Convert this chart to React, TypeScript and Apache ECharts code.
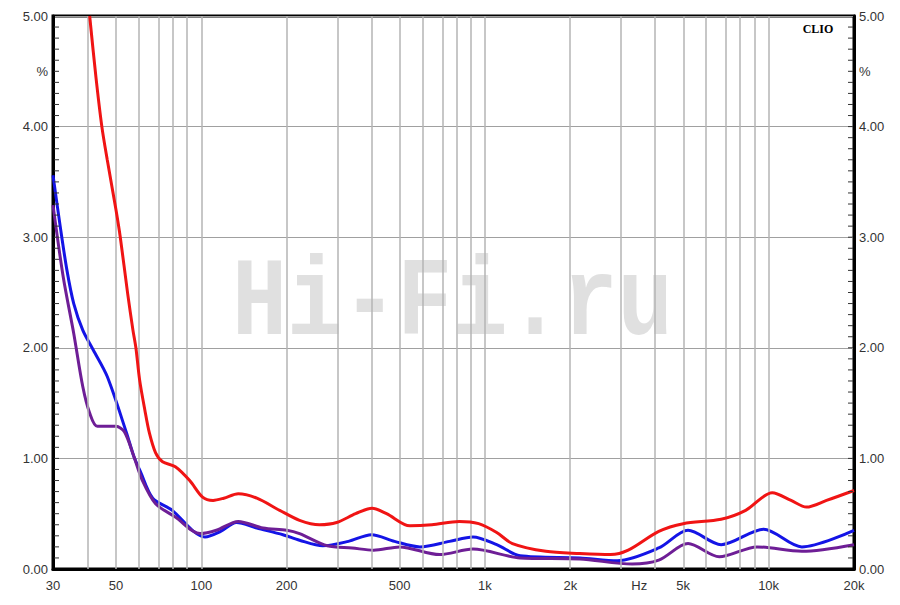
import React, { useEffect, useRef } from "react";
import * as echarts from "echarts";

const gridFreqs = [40, 50, 60, 70, 80, 90, 100, 200, 300, 400, 500, 600, 700, 800, 900, 1000, 2000, 3000, 4000, 5000, 6000, 7000, 8000, 9000, 10000];
const xLabelFreqs = [30, 50, 100, 200, 500, 1000, 2000, 3500, 5000, 10000, 20000];
const xLabelTexts = ["30", "50", "100", "200", "500", "1k", "2k", "Hz", "5k", "10k", "20k"];
const yLabelValues = [0, 1, 2, 3, 4, 4.5, 5];
const yLabelTexts = ["0.00", "1.00", "2.00", "3.00", "4.00", "%", "5.00"];
const yTickStep = 0.1;

const redFreqs = [40.4, 42.5, 44.6, 46.6, 50, 51.8, 55, 57.4, 58.8, 60.6, 63.2, 65.6, 69, 73, 81, 91, 101, 110, 120, 135, 157, 189, 222, 261, 300, 350, 400, 450, 544, 650, 812, 950, 1100, 1250, 1640, 2160, 2770, 3200, 4100, 5000, 6800, 8300, 10300, 12000, 13600, 16000, 20000];
const redValues = [5.0, 4.45, 4.0, 3.7, 3.25, 3.0, 2.49, 2.16, 2.0, 1.71, 1.44, 1.23, 1.05, 0.97, 0.925, 0.8, 0.65, 0.62, 0.64, 0.68, 0.64, 0.53, 0.44, 0.4, 0.42, 0.5, 0.55, 0.5, 0.39, 0.4, 0.43, 0.41, 0.33, 0.23, 0.16, 0.14, 0.13, 0.17, 0.34, 0.41, 0.45, 0.53, 0.69, 0.62, 0.56, 0.62, 0.71];

const blueFreqs = [30, 31.8, 33.6, 35.5, 38.2, 41.6, 46.6, 54.5, 57.8, 61, 67.4, 79, 93, 103, 117, 133, 157, 194, 222, 268, 330, 398, 480, 590, 750, 907, 1100, 1330, 2160, 2930, 4100, 5200, 6800, 9600, 13100, 20000];
const blueValues = [3.56, 3.1, 2.7, 2.4, 2.16, 1.98, 1.74, 1.23, 1.02, 0.88, 0.64, 0.53, 0.35, 0.29, 0.34, 0.42, 0.37, 0.31, 0.26, 0.21, 0.25, 0.31, 0.25, 0.2, 0.25, 0.29, 0.22, 0.12, 0.1, 0.075, 0.19, 0.35, 0.22, 0.36, 0.2, 0.35];

const purpleFreqs = [30, 32.6, 35.5, 38.2, 40.4, 43, 50, 53.6, 57.8, 62, 69, 81, 99, 113, 135, 165, 200, 222, 278, 340, 405, 500, 692, 907, 1330, 2160, 3300, 4100, 5200, 6700, 9100, 13100, 20000];
const purpleValues = [3.29, 2.64, 2.13, 1.65, 1.41, 1.29, 1.29, 1.24, 1.02, 0.8, 0.59, 0.47, 0.32, 0.35, 0.43, 0.37, 0.35, 0.32, 0.21, 0.19, 0.17, 0.2, 0.13, 0.18, 0.1, 0.09, 0.045, 0.08, 0.23, 0.11, 0.2, 0.16, 0.22];

const toData = (fs: number[], vs: number[]) => fs.map((f, i) => [Math.log10(f), vs[i]]);

export default function App() {
  const ref = useRef<HTMLDivElement>(null);
  useEffect(() => {
    if (!ref.current) return;
    const chart = echarts.init(ref.current, undefined, { renderer: "svg" });
    const xMin = Math.log10(30);
    const xMax = Math.log10(20000);
    const xLog = xLabelFreqs.map((f) => Math.log10(f));
    const xFmt = (v: number) => {
      let best = 0;
      let bd = Infinity;
      xLog.forEach((l, i) => {
        const d = Math.abs(l - v);
        if (d < bd) { bd = d; best = i; }
      });
      return xLabelTexts[best];
    };
    const yFmt = (v: number) => {
      const i = yLabelValues.findIndex((y) => Math.abs(y - v) < 1e-6);
      return i >= 0 ? yLabelTexts[i] : "";
    };
    const tickVals: number[] = [];
    for (let i = 1; i < 50; i++) tickVals.push(+(i * yTickStep).toFixed(2));
    const yAxisCommon = {
      type: "value",
      min: 0,
      max: 5,
      interval: 1,
      axisLine: { show: true, lineStyle: { color: "#000", width: 3 } },
      axisTick: { show: false },
      minorTick: { show: false },
      axisLabel: {
        customValues: yLabelValues,
        formatter: yFmt,
        color: "#333",
        fontFamily: "Liberation Sans, Arial, sans-serif",
        fontSize: 13,
        margin: 5,
      },
    };
    chart.setOption({
      animation: false,
      backgroundColor: "#fff",
      grid: { left: 53, right: 46, top: 16, bottom: 36, show: true, borderColor: "#000", borderWidth: 3, backgroundColor: "transparent" },
      xAxis: {
        type: "value",
        min: xMin,
        max: xMax,
        axisLine: { show: true, lineStyle: { color: "#000", width: 3 } },
        axisTick: { show: false },
        splitLine: { show: false },
        axisLabel: {
          customValues: xLog,
          formatter: xFmt,
          color: "#333",
          fontFamily: "Liberation Sans, Arial, sans-serif",
          fontSize: 13,
          margin: 10,
          showMinLabel: true,
          showMaxLabel: true,
        },
      },
      yAxis: [
        { ...yAxisCommon, position: "left", splitLine: { show: true, lineStyle: { color: "#a0a0a0", width: 1 } } },
        { ...yAxisCommon, position: "right", splitLine: { show: false } },
      ],
      graphic: [
        {
          type: "text",
          left: 232,
          top: 248,
          z: 0,
          silent: true,
          style: {
            text: "Hi-Fi.ru",
            fill: "#e0e0e0",
            font: "bold 112px 'Liberation Mono', 'DejaVu Sans Mono', monospace",
          },
          scaleX: 0.82,
        },
        {
          type: "text",
          x: 818,
          y: 29,
          z: 10,
          style: {
            text: "CLIO",
            fill: "#000",
            font: "bold 12px 'Liberation Serif', 'DejaVu Serif', serif",
            textAlign: "center",
            textVerticalAlign: "middle",
          },
        },
      ],
      series: [
        {
          type: "line",
          data: [],
          silent: true,
          markLine: {
            silent: true,
            symbol: "none",
            label: { show: false },
            lineStyle: { color: "#b4b4b4", width: 1.5, type: "solid" },
            data: gridFreqs.map((f) => ({ xAxis: Math.log10(f) })),
          },
        },
        {
          type: "custom",
          silent: true,
          z: 6,
          clip: false,
          data: tickVals.map((v) => [xMin, v]),
          renderItem: (params: any, api: any) => {
            const y = api.value(1);
            const pl = api.coord([xMin, y]);
            const pr = api.coord([xMax, y]);
            return {
              type: "group",
              children: [
                { type: "line", shape: { x1: pl[0] + 1, y1: pl[1], x2: pl[0] + 6, y2: pl[1] }, style: { stroke: "#333", lineWidth: 1 } },
                { type: "line", shape: { x1: pr[0] - 6, y1: pr[1], x2: pr[0] - 1, y2: pr[1] }, style: { stroke: "#333", lineWidth: 1 } },
              ],
            };
          },
        },
        {
          type: "line",
          name: "blue",
          data: toData(blueFreqs, blueValues),
          smooth: 0.3,
          showSymbol: false,
          lineStyle: { color: "#1414e6", width: 3 },
          z: 3,
        },
        {
          type: "line",
          name: "purple",
          data: toData(purpleFreqs, purpleValues),
          smooth: 0.3,
          showSymbol: false,
          lineStyle: { color: "#6e1e96", width: 3 },
          z: 4,
        },
        {
          type: "line",
          name: "red",
          data: toData(redFreqs, redValues),
          smooth: 0.3,
          showSymbol: false,
          lineStyle: { color: "#f01414", width: 3 },
          z: 5,
        },
      ],
    });
    return () => chart.dispose();
  }, []);
  return <div ref={ref} style={{ width: 900, height: 605, position: "absolute", left: 0, top: 0 }} />;
}
